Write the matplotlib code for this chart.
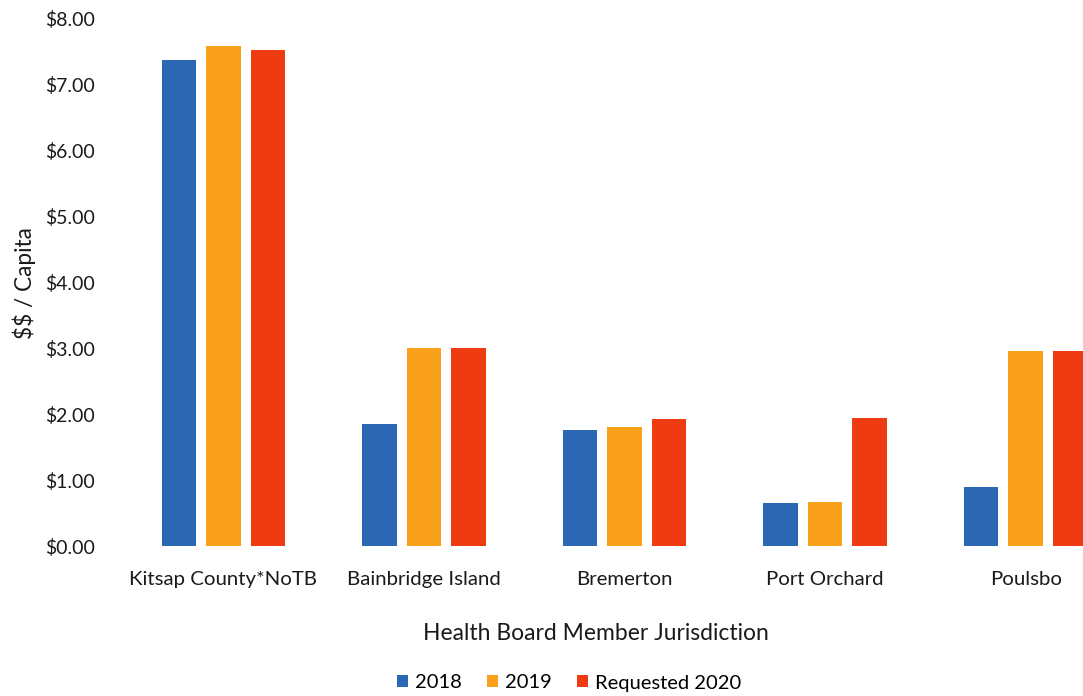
import matplotlib
matplotlib.use("Agg")
import matplotlib.pyplot as plt
import numpy as np

plt.rcParams['font.family'] = ['Lato', 'DejaVu Sans']
plt.rcParams['text.parse_math'] = False

jurisdictions = ['Kitsap County*NoTB', 'Bainbridge Island', 'Bremerton', 'Port Orchard', 'Poulsbo']
series_names = ['2018', '2019', 'Requested 2020']
vals_2018 = [7.36, 1.85, 1.76, 0.65, 0.90]
vals_2019 = [7.58, 3.00, 1.80, 0.66, 2.96]
vals_2020 = [7.52, 3.00, 1.92, 1.94, 2.96]
colors = ['#2b67b2', '#f9a11b', '#ee3b12']

fig = plt.figure(figsize=(10.83, 6.96), dpi=100)
# plot area runs off the right edge, like the cropped scan
ax = fig.add_axes([123 / 1083, 1 - 546 / 696, 1003 / 1083, 528 / 696])

x = np.arange(len(jurisdictions))
w = 0.172
step = 0.222
for i, (vals, name) in enumerate(zip([vals_2018, vals_2019, vals_2020], series_names)):
    ax.bar(x + (i - 1) * step, vals, width=w, color=colors[i], label=name)

ax.set_xlim(-0.5, 4.5)
ax.set_ylim(0, 8)
ax.set_yticks(np.arange(0, 9, 1))
ax.set_yticklabels([f'${v:.2f}' for v in range(9)])
ax.set_xticks(x)
ax.set_xticklabels(jurisdictions, fontsize=14.7)
for s in ax.spines.values():
    s.set_visible(False)
ax.tick_params(axis='both', length=0, colors='#1a1a1a')
ax.tick_params(axis='y', pad=20, labelsize=14)
ax.tick_params(axis='x', pad=18)

fig.text(596 / 1083, 1 - 633 / 696, 'Health Board Member Jurisdiction',
         ha='center', va='center', fontsize=16.5, color='#1a1a1a')
fig.text(24 / 1083, 1 - 283 / 696, '$$ / Capita', rotation=90,
         ha='center', va='center', fontsize=16.3, color='#1a1a1a')

fig.legend(loc='center', bbox_to_anchor=(569 / 1083, 1 - 683 / 696), ncol=3,
           frameon=False, fontsize=14.5, handlelength=0.55, handleheight=0.55,
           handletextpad=0.35, columnspacing=1.25)

fig.savefig('out.png', dpi=100)
